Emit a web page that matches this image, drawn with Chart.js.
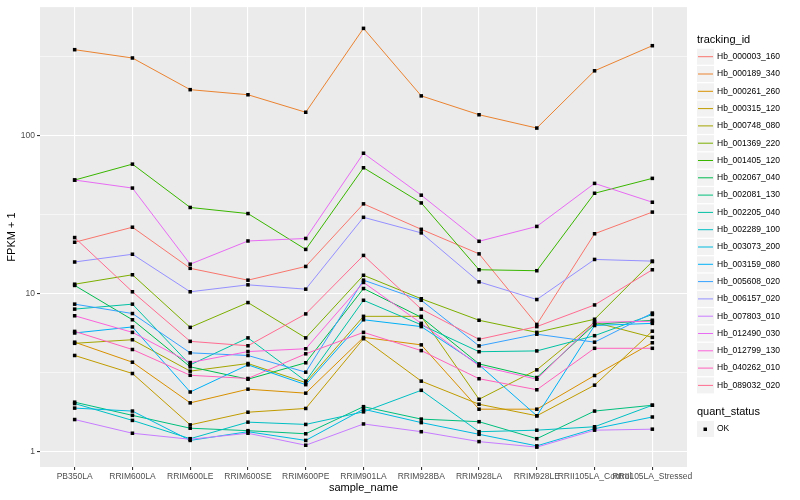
<!DOCTYPE html>
<html>
<head>
<meta charset="utf-8">
<script src="https://cdn.jsdelivr.net/npm/chart.js@4.4.0/dist/chart.umd.min.js"></script>
<style>
  html, body { margin: 0; padding: 0; background: #fff; }
  #wrap { width: 800px; height: 500px; }
</style>
</head>
<body>
<div id="wrap"><canvas id="myChart"></canvas></div>
<script>
const samples = ['PB350LA', 'RRIM600LA', 'RRIM600LE', 'RRIM600SE', 'RRIM600PE', 'RRIM901LA',
  'RRIM928BA', 'RRIM928LA', 'RRIM928LE', 'RRII105LA_Control', 'RRII105LA_Stressed'];

const trackingIds = ['Hb_000003_160', 'Hb_000189_340', 'Hb_000261_260', 'Hb_000315_120', 'Hb_000748_080',
  'Hb_001369_220', 'Hb_001405_120', 'Hb_002067_040', 'Hb_002081_130', 'Hb_002205_040',
  'Hb_002289_100', 'Hb_003073_200', 'Hb_003159_080', 'Hb_005608_020', 'Hb_006157_020',
  'Hb_007803_010', 'Hb_012490_030', 'Hb_012799_130', 'Hb_040262_010', 'Hb_089032_020'];

const lineColors = ['#F8766D', '#EA8331', '#D89000', '#C09B00', '#A3A500', '#7CAE00', '#39B600', '#00BB4E',
  '#00BF7D', '#00C1A3', '#00BFC4', '#00BAE0', '#00B0F6', '#35A2FF', '#9590FF', '#C77CFF',
  '#E76BF3', '#FA62DB', '#FF62BC', '#FF6C91'];

// FPKM + 1, one value per sample
const hb000003_160 = [21.2, 26.4, 14.5, 12.2, 14.9, 37.1, 25.6, 17.9, 6.4, 24.0, 32.9];
const hb000189_340 = [351, 311, 196, 182, 141, 479, 179, 136, 112, 258, 372];
const hb000261_260 = [4.94, 3.69, 2.04, 2.49, 2.35, 5.3, 4.75, 1.86, 1.86, 3.04, 4.9];
const hb000315_120 = [4.07, 3.13, 1.48, 1.78, 1.88, 5.2, 2.8, 2.0, 1.69, 2.64, 5.8];
const hb000748_080 = [4.86, 5.12, 3.24, 3.62, 2.74, 7.2, 7.2, 2.15, 3.3, 6.6, 5.3];
const hb001369_220 = [11.5, 13.2, 6.13, 8.8, 5.26, 13.1, 9.3, 6.8, 5.7, 6.9, 16.0];
const hb001405_120 = [52.5, 66.2, 35.2, 32.2, 19.1, 62.8, 37.6, 14.2, 14.0, 43.3, 53.8];
const hb002067_040 = [11.3, 6.85, 3.45, 2.88, 3.66, 10.8, 7.1, 3.6, 2.95, 6.4, 6.8];
const hb002081_130 = [2.06, 1.70, 1.41, 1.36, 1.30, 1.93, 1.61, 1.55, 1.21, 1.81, 1.97];
const hb002205_040 = [8.0, 8.6, 3.55, 5.26, 2.8, 9.1, 6.36, 4.3, 4.35, 5.43, 7.4];
const hb002289_100 = [2.02, 1.58, 1.21, 1.54, 1.49, 1.79, 2.45, 1.34, 1.37, 1.44, 1.97];
const hb003073_200 = [1.89, 1.81, 1.18, 1.34, 1.18, 1.86, 1.53, 1.29, 1.09, 1.40, 1.66];
const hb003159_080 = [5.65, 6.17, 2.39, 3.55, 2.66, 6.85, 6.2, 3.55, 1.69, 6.3, 6.5];
const hb005608_020 = [8.6, 7.5, 4.23, 4.07, 3.19, 12.2, 9.1, 4.68, 5.55, 4.94, 7.55];
const hb006157_020 = [15.9, 17.8, 10.3, 11.4, 10.7, 30.5, 24.3, 11.9, 9.2, 16.5, 16.1];
const hb007803_010 = [1.60, 1.31, 1.20, 1.31, 1.10, 1.50, 1.34, 1.16, 1.07, 1.37, 1.39];
const hb012490_030 = [52.5, 46.7, 15.4, 21.6, 22.4, 77.6, 42.1, 21.5, 26.7, 50, 38];
const hb012799_130 = [7.26, 5.7, 3.67, 4.31, 4.49, 11.8, 6.5, 3.5, 2.88, 6.6, 6.7];
const hb040262_010 = [5.78, 4.44, 3.05, 2.91, 4.17, 5.7, 4.37, 2.9, 2.47, 4.52, 4.52];
const hb089032_020 = [22.7, 10.3, 5.0, 4.69, 7.46, 17.5, 8.0, 5.15, 6.2, 8.5, 14.2];

const seriesList = [hb000003_160, hb000189_340, hb000261_260, hb000315_120, hb000748_080,
  hb001369_220, hb001405_120, hb002067_040, hb002081_130, hb002205_040,
  hb002289_100, hb003073_200, hb003159_080, hb005608_020, hb006157_020,
  hb007803_010, hb012490_030, hb012799_130, hb040262_010, hb089032_020];

const yBreaks = [1, 3.1623, 10, 31.623, 100, 316.23];
const yLabels = { 1: '1', 10: '10', 100: '100' };

const FONT = '"Liberation Sans", Arial, sans-serif';
const myChartElement = document.getElementById('myChart');

// grey panel behind the grid, like ggplot
const panelPlugin = {
  id: 'panelBg',
  beforeDraw(chart) {
    const { ctx, chartArea } = chart;
    ctx.save();
    ctx.fillStyle = '#EBEBEB';
    ctx.fillRect(chartArea.left, chartArea.top, chartArea.right - chartArea.left, chartArea.bottom - chartArea.top);
    ctx.restore();
  }
};

// two-part legend on the right (tracking_id + quant_status)
const legendPlugin = {
  id: 'ggLegend',
  afterDraw(chart) {
    const ctx = chart.ctx;
    ctx.save();
    ctx.textBaseline = 'middle';
    ctx.textAlign = 'left';
    ctx.fillStyle = '#000';
    ctx.font = '11px ' + FONT;
    ctx.fillText('tracking_id', 697, 40);

    ctx.font = '8.5px ' + FONT;
    trackingIds.forEach((id, i) => {
      const y = 56.7 + i * 17.3;
      ctx.fillStyle = '#F2F2F2';
      ctx.fillRect(697, y - 8, 17, 16);
      ctx.strokeStyle = lineColors[i];
      ctx.lineWidth = 1;
      ctx.beginPath();
      ctx.moveTo(698, y);
      ctx.lineTo(713, y);
      ctx.stroke();
      ctx.fillStyle = '#000';
      ctx.fillText(id, 717, y);
    });

    ctx.font = '11px ' + FONT;
    ctx.fillText('quant_status', 697, 412);
    ctx.fillStyle = '#F2F2F2';
    ctx.fillRect(697, 421, 17, 16);
    ctx.fillStyle = '#000';
    ctx.fillRect(703.5, 427.5, 3.5, 3.5);
    ctx.font = '8.5px ' + FONT;
    ctx.fillText('OK', 717, 429);
    ctx.restore();
  }
};

let myDatasets = seriesList.map((values, i) => ({
  label: trackingIds[i],
  data: values.map((v, j) => ({ x: j, y: v })),
  borderColor: lineColors[i],
  backgroundColor: '#000',
  borderWidth: 1,
  tension: 0,
  pointStyle: 'rect',
  pointRadius: 2.5,
  pointBorderWidth: 0,
  pointBackgroundColor: '#000',
  order: seriesList.length - i
}));

let myOptions = {
  responsive: true,
  maintainAspectRatio: false,
  animation: false,
  layout: { padding: { top: 5, right: 113, left: 0, bottom: 0 } },
  plugins: {
    legend: { display: false },
    tooltip: { enabled: false }
  },
  scales: {
    x: {
      type: 'linear',
      min: -0.6,
      max: 10.6,
      afterBuildTicks: s => { s.ticks = samples.map((_, i) => ({ value: i })); },
      afterFit: s => { s.height = 33; },
      ticks: {
        callback: v => samples[v],
        autoSkip: false,
        maxRotation: 0,
        minRotation: 0,
        padding: 2,
        color: '#4D4D4D',
        font: { family: FONT, size: 8.5 }
      },
      grid: { color: '#fff', lineWidth: 1.1, tickColor: '#333', tickLength: 3 },
      border: { display: false },
      title: {
        display: true,
        text: 'sample_name',
        color: '#000',
        font: { family: FONT, size: 11 },
        padding: { top: 0, bottom: 5 }
      }
    },
    y: {
      type: 'logarithmic',
      min: 0.801,
      max: 653,
      afterBuildTicks: s => { s.ticks = yBreaks.map(v => ({ value: v })); },
      afterFit: s => { s.width = 40; },
      ticks: {
        callback: v => yLabels[v] || '',
        padding: 2,
        color: '#4D4D4D',
        font: { family: FONT, size: 8.5 }
      },
      grid: {
        color: '#fff',
        lineWidth: c => (c.tick && yLabels[c.tick.value] ? 1.1 : 0.55),
        tickColor: c => (c.tick && yLabels[c.tick.value] ? '#333' : 'rgba(0,0,0,0)'),
        tickLength: 3
      },
      border: { display: false },
      title: {
        display: true,
        text: 'FPKM + 1',
        color: '#000',
        font: { family: FONT, size: 11 },
        padding: { top: 5, bottom: 0 }
      }
    }
  }
};

let myChart = new Chart(myChartElement, {
  type: 'line',
  data: { datasets: myDatasets },
  options: myOptions,
  plugins: [panelPlugin, legendPlugin]
});
</script>
</body>
</html>
